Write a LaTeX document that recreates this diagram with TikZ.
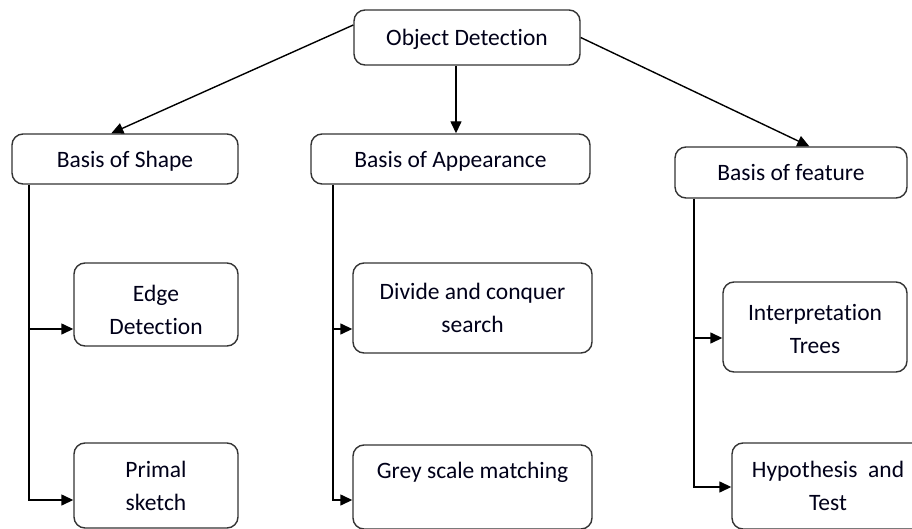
\documentclass[tikz,border=0pt]{standalone}
\usepackage{fontspec}
\setmainfont[Ligatures=NoCommon]{Carlito}
\usetikzlibrary{arrows.meta,calc}
\begin{document}
\begin{tikzpicture}[x=1pt,y=-1pt,
  box/.style={draw=black!80,line width=1.4pt,rounded corners=11pt,fill=white,
    inner sep=0pt,align=center,font=\fontsize{23.5}{33}\selectfont,text=black!90!blue,
    text depth=0pt},
  arr/.style={line width=1.4pt,-{Triangle[length=12pt,width=11pt]}},
  ln/.style={line width=1.4pt}]
\useasboundingbox (0,0) rectangle (912,529);
\node[box,minimum width=226pt,minimum height=55pt] (od) at (467,37.5) {Object Detection};
\node[box,minimum width=226pt,minimum height=50pt] (shape) at (125,159) {Basis of Shape};
\node[box,minimum width=279pt,minimum height=50pt] (app) at (450.5,159) {Basis of Appearance};
\node[box,minimum width=232pt,minimum height=51pt] (feat) at (791,172.5) {Basis of feature};
\node[box,minimum width=164pt,minimum height=83pt] (edge) at (156,304.5) {\rule{0pt}{26pt}Edge\\Detection};
\node[box,minimum width=164pt,minimum height=85pt] (primal) at (156,485.5) {Primal\\sketch};
\node[box,minimum width=239pt,minimum height=90pt] (divide) at (472.5,308) {Divide and conquer\\search};
\node[box,minimum width=239pt,minimum height=84pt] (grey) at (472.5,487) {Grey scale matching\\\mbox{}};
\node[box,minimum width=184pt,minimum height=90pt] (interp) at (815,327) {\rule{0pt}{20.5pt}Interpretation\\Trees};
\node[box,minimum width=192pt,minimum height=86pt] (hyp) at (828,486) {Hypothesis~~and\\Test};
% top connectors
\draw[arr] ($(od.west)+(0,-12.5)$) -- ($(shape.north west)+(100,0)$);
\draw[arr] (od.south -| 456,0) -- (app.north -| 456,0);
\draw[arr] (od.east) -- ($(feat.north west)+(135,0)$);
% shape bracket
\draw[arr] (shape.south -| 29,0) |- (primal.west |- 0,500);
\draw[arr] (29,329) -- (edge.west |- 0,329);
% appearance bracket
\draw[arr] (app.south -| 333,0) |- (grey.west |- 0,500);
\draw[arr] (333,329) -- (divide.west |- 0,329);
% feature bracket
\draw[arr] (feat.south -| 694,0) |- (hyp.west |- 0,487);
\draw[arr] (694,338) -- (interp.west |- 0,338);
\end{tikzpicture}
\end{document}
